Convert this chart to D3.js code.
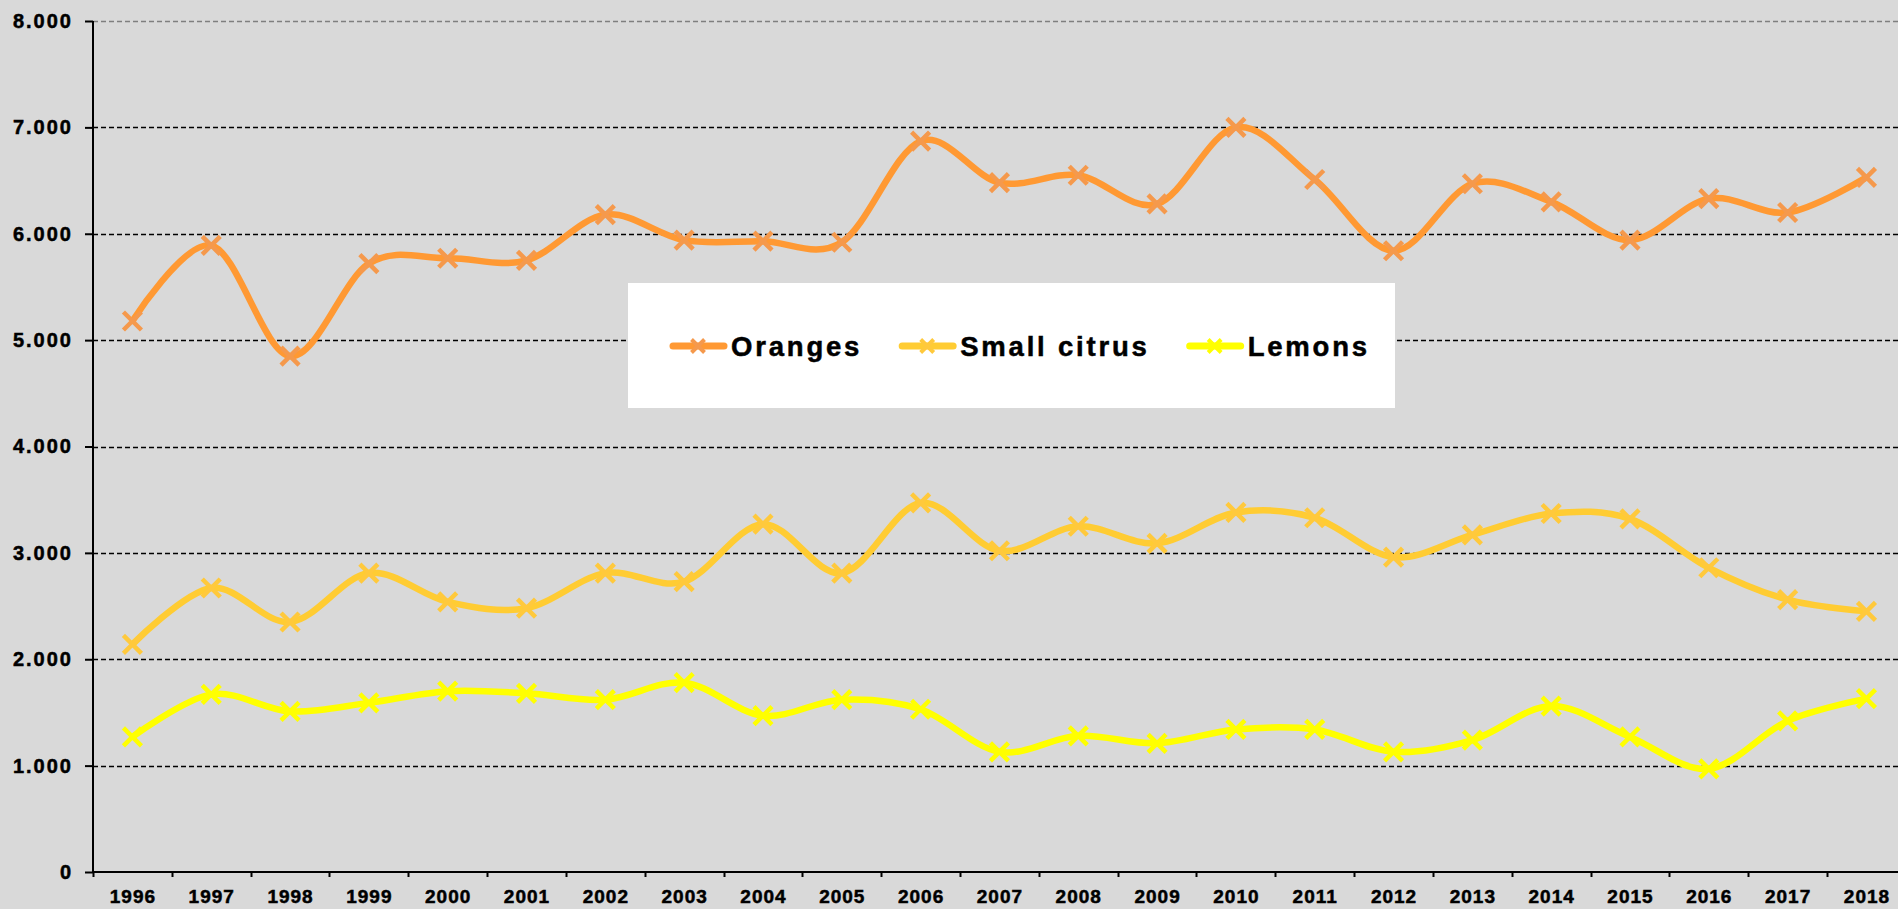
<!DOCTYPE html>
<html>
<head>
<meta charset="utf-8">
<script src="https://cdn.jsdelivr.net/npm/d3@7"></script>
<style>
  html, body { margin: 0; padding: 0; background: #d9d9d9; }
  svg { display: block; font-family: "Liberation Sans", Arial, sans-serif; font-weight: bold; }
</style>
</head>
<body>
<div id="chart"></div>
<script>
const years = ['1996', '1997', '1998', '1999', '2000', '2001', '2002', '2003', '2004', '2005', '2006', '2007',
  '2008', '2009', '2010', '2011', '2012', '2013', '2014', '2015', '2016', '2017', '2018'];
const oranges = [5180, 5890, 4850, 5720, 5770, 5750, 6180, 5940, 5930, 5920, 6870, 6480,
  6550, 6280, 7000, 6510, 5840, 6470, 6300, 5940, 6330, 6200, 6530];
const smallCitrus = [2140, 2670, 2350, 2810, 2540, 2480, 2810, 2730, 3270, 2810, 3470, 3020,
  3250, 3090, 3380, 3330, 2960, 3170, 3370, 3320, 2860, 2560, 2450];
const lemons = [1270, 1670, 1510, 1590, 1700, 1680, 1620, 1780, 1470, 1620, 1530, 1130,
  1280, 1210, 1340, 1340, 1130, 1240, 1560, 1270, 970, 1420, 1630];
const yTicks = [0, 1000, 2000, 3000, 4000, 5000, 6000, 7000, 8000];
const seriesNames = ['Oranges', 'Small citrus', 'Lemons'];

const series = [
  { name: seriesNames[0], values: oranges, line: '#ff9933', marker: '#f5994c' },
  { name: seriesNames[1], values: smallCitrus, line: '#ffcc33', marker: '#ffc93c' },
  { name: seriesNames[2], values: lemons, line: '#ffff00', marker: '#ffff00' },
];

const W = 1898, H = 909;
const plotLeft = 93, plotTop = 21, plotBottom = 872;
const step = 78.82;

const svg = d3.select('#chart').append('svg')
  .attr('width', W)
  .attr('height', H);

svg.append('rect').attr('width', W).attr('height', H).attr('fill', '#d9d9d9');

const x = d3.scaleBand().domain(years).range([plotLeft, plotLeft + step * years.length]).padding(0);
const y = d3.scaleLinear().domain([0, 8000]).range([plotBottom, plotTop]);
const fmt = d3.formatLocale({ decimal: ',', thousands: '.', grouping: [3], currency: ['', ''] }).format(',');

// Gridlines
svg.append('g')
  .selectAll('line')
  .data(yTicks.filter(d => d > 0))
  .join('line')
  .attr('x1', plotLeft).attr('x2', W)
  .attr('y1', d => Math.round(y(d)) + 0.5).attr('y2', d => Math.round(y(d)) + 0.5)
  .attr('stroke', d => d === 8000 ? '#7f7f7f' : '#000')
  .attr('stroke-width', 1.4)
  .attr('stroke-dasharray', '5,3');

// Y axis
const yAxis = svg.append('g')
  .attr('transform', `translate(${plotLeft},0)`)
  .call(d3.axisLeft(y).tickValues(yTicks).tickSize(8).tickPadding(14).tickFormat(fmt));
yAxis.select('.domain').attr('stroke', '#000').attr('stroke-width', 2).attr('d', `M0,${plotTop}V${plotBottom}`);
yAxis.selectAll('.tick line').attr('stroke', '#000').attr('stroke-width', 2);
yAxis.selectAll('.tick text')
  .attr('fill', '#000')
  .attr('stroke', '#000')
  .attr('stroke-width', 0.5)
  .attr('font-size', '20px')
  .attr('font-weight', 'bold')
  .attr('font-family', '"Liberation Sans", Arial, sans-serif')
  .style('letter-spacing', '2px')
  .attr('dx', '2px');

// X axis
const xAxis = svg.append('g')
  .attr('transform', `translate(0,${plotBottom})`)
  .call(d3.axisBottom(x).tickSize(0).tickPadding(18));
xAxis.select('.domain').attr('stroke', '#000').attr('stroke-width', 2).attr('d', `M${plotLeft},0H${W}`);
xAxis.selectAll('.tick text')
  .attr('fill', '#000')
  .attr('stroke', '#000')
  .attr('stroke-width', 0.5)
  .attr('font-size', '19px')
  .attr('font-weight', 'bold')
  .attr('font-family', '"Liberation Sans", Arial, sans-serif')
  .style('letter-spacing', '1px')
  .attr('dx', '0.5px');

svg.append('g')
  .selectAll('line')
  .data(years)
  .join('line')
  .attr('x1', d => Math.round(x(d)) + 0.5).attr('x2', d => Math.round(x(d)) + 0.5)
  .attr('y1', plotBottom).attr('y2', plotBottom + 5)
  .attr('stroke', '#000')
  .attr('stroke-width', 2);

// Series
const line = d3.line()
  .x((d, i) => x(years[i]) + x.bandwidth() / 2)
  .y(d => y(d))
  .curve(d3.curveCatmullRom.alpha(0));

const crossPath = s => `M${-s},${-s}L${s},${s}M${-s},${s}L${s},${-s}`;

series.forEach(s => {
  const g = svg.append('g');
  g.append('path')
    .datum(s.values)
    .attr('fill', 'none')
    .attr('stroke', s.line)
    .attr('stroke-width', 6.5)
    .attr('stroke-linejoin', 'round')
    .attr('d', line);

  g.selectAll('.marker')
    .data(s.values)
    .join('path')
    .attr('transform', (d, i) => `translate(${x(years[i]) + x.bandwidth() / 2},${y(d)})`)
    .attr('d', crossPath(9))
    .attr('stroke', s.marker)
    .attr('stroke-width', 4.5)
    .attr('fill', 'none');
});

// Legend
const legend = svg.append('g');
legend.append('rect')
  .attr('x', 628).attr('y', 283)
  .attr('width', 767).attr('height', 125)
  .attr('fill', '#fff');

let lx = 670;
const ly = 346;
series.forEach(s => {
  legend.append('line')
    .attr('x1', lx + 3).attr('x2', lx + 54)
    .attr('y1', ly).attr('y2', ly)
    .attr('stroke', s.line)
    .attr('stroke-width', 7)
    .attr('stroke-linecap', 'round');
  legend.append('path')
    .attr('transform', `translate(${lx + 28},${ly})`)
    .attr('d', crossPath(6.5))
    .attr('stroke', s.marker)
    .attr('stroke-width', 4);
  const t = legend.append('text')
    .attr('x', lx + 61)
    .attr('y', ly + 10)
    .attr('font-size', '27.5px')
    .attr('font-weight', 'bold')
    .attr('fill', '#000')
    .attr('stroke', '#000')
    .attr('stroke-width', 0.5)
    .style('letter-spacing', '2.8px')
    .text(s.name);
  lx += 61 + t.node().getComputedTextLength() + 37;
});
</script>
</body>
</html>
